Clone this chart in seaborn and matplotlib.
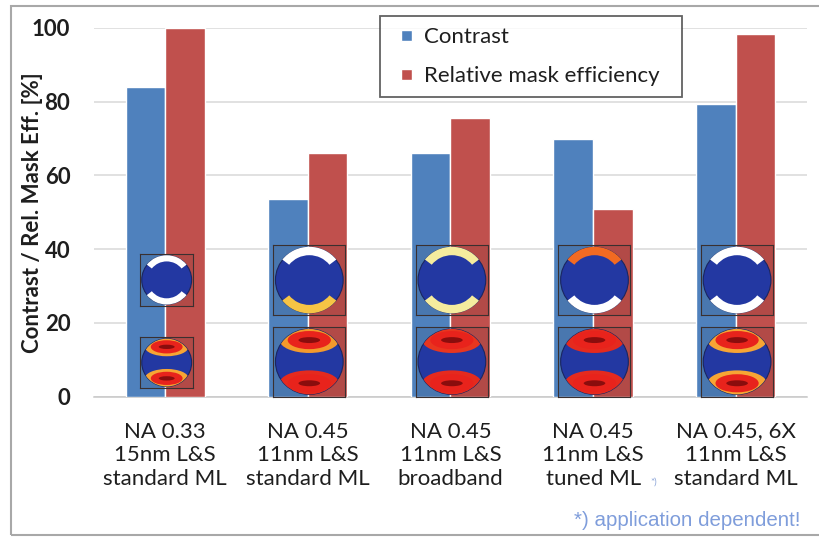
import matplotlib
matplotlib.use("Agg")
import matplotlib.pyplot as plt
import pandas as pd
import seaborn as sns
from matplotlib.patches import Circle, Wedge, Ellipse, Rectangle
from matplotlib.legend_handler import HandlerPatch

# ---- data -------------------------------------------------------------
categories = [
    "NA 0.33\n15nm L&S\nstandard ML",
    "NA 0.45\n11nm L&S\nstandard ML",
    "NA 0.45\n11nm L&S\nbroadband",
    "NA 0.45\n11nm L&S\ntuned ML",
    "NA 0.45, 6X\n11nm L&S\nstandard ML",
]
contrast = [84, 53.5, 66, 70, 79.5]
rel_mask_eff = [100, 66, 75.5, 51, 98.5]
series = ["Contrast", "Relative mask efficiency"]
y_ticks = [0, 20, 40, 60, 80, 100]
y_label = "Contrast / Rel. Mask Eff. [%]"
footnote = "*) application dependent!"

# ---- styling ------------------------------------------------------------
BLUE, RED = "#4F81BD", "#C0504D"
GRID = "#d9d9d9"
TEXT = "#1e1e1e"

sns.set_theme(style="white")
plt.rcParams["font.family"] = ["Lato", "DejaVu Sans"]

df = pd.DataFrame({
    "category": categories * 2,
    "series": [series[0]] * len(categories) + [series[1]] * len(categories),
    "value": contrast + rel_mask_eff,
})

fig = plt.figure(figsize=(8.2, 5.38), dpi=100)
ax = fig.add_axes([0.1146, 0.263, 0.8695, 0.685])

sns.barplot(data=df, x="category", y="value", hue="series",
            palette=[BLUE, RED], saturation=1, width=0.555,
            order=categories, hue_order=series, ax=ax, zorder=3)

ax.set_ylim(0, 100)
ax.set_xlim(-0.5, len(categories) - 0.5)
ax.set_yticks(y_ticks)
ax.yaxis.grid(True, color=GRID, lw=1.1, zorder=0)
ax.set_axisbelow(True)
for s in ("top", "right", "left"):
    ax.spines[s].set_visible(False)
ax.spines["bottom"].set_color("#c8c8c8")
ax.spines["bottom"].set_linewidth(1.1)

ax.tick_params(axis="y", length=5, color=GRID, width=1.1, pad=12,
               labelsize=16, labelcolor=TEXT)
for lab in ax.get_yticklabels():
    lab.set_fontweight("bold")

ax.set_xticks(range(len(categories)))
ax.set_xticklabels(categories, fontsize=16, color=TEXT, linespacing=1.22)
ax.tick_params(axis="x", which="major", length=0, pad=18)
ax.set_xticks([i - 0.5 for i in range(len(categories) + 1)], minor=True)
ax.tick_params(axis="x", which="minor", length=6, color="#c8c8c8", width=1.1)

ax.set_xlabel("")
ax.set_ylabel(y_label, fontsize=16, fontweight="bold", color=TEXT)
ax.yaxis.set_label_coords(-0.072, 0.5)


def square_handle(legend, orig_handle, xdescent, ydescent, width, height, fontsize):
    side = 0.5 * fontsize
    return Rectangle((width - side - xdescent, (height - side) / 2 - ydescent),
                     side, side)


handles, labels = ax.get_legend_handles_labels()
leg = ax.legend(handles, [l + "  " for l in labels], loc="upper left",
                bbox_to_anchor=(0.463, 0.970), bbox_transform=fig.transFigure,
                fontsize=16, frameon=True, fancybox=False, shadow=False,
                handlelength=0.95, handleheight=0.7, handletextpad=0.55,
                borderpad=0.5, labelspacing=0.85, borderaxespad=0,
                handler_map={h: HandlerPatch(patch_func=square_handle) for h in handles})
leg.get_frame().set_edgecolor("#3c3c3c")
leg.get_frame().set_linewidth(1.3)
for t in leg.get_texts():
    t.set_color(TEXT)

# ---- pupil diagrams drawn on top of each bar pair -------------------------
DISK = "#2338a2"
source_arcs = [("white", "white"), ("white", "#f6c445"), ("#f5ec9e", "#f5ec9e"),
               ("#f26a22", "white"), ("white", "white")]
field_rims = [("#f7a534", "#f7a534"), ("#f39a2c", "#e52a1e"), ("#e8361f", "#e52a1e"),
              ("#e52a1e", "#e52a1e"), ("#f7a534", "#f7a534")]


def frame(inset):
    inset.set_xlim(-1, 1)
    inset.set_ylim(-1, 1)
    inset.set_xticks([])
    inset.set_yticks([])
    inset.set_facecolor((0, 0, 0, 0.07))
    for sp in inset.spines.values():
        sp.set_color("#3a3030")
        sp.set_linewidth(0.8)


def draw_source(inset, top, bottom):
    frame(inset)
    inset.add_patch(Circle((0, 0), 0.94, fc=DISK, ec="#1a2660", lw=0.8))
    inset.add_patch(Wedge((0, 0), 0.95, 38, 142, width=0.24, fc=top, ec="none"))
    inset.add_patch(Wedge((0, 0), 0.95, 218, 322, width=0.24, fc=bottom, ec="none"))


def draw_field(inset, top, bottom):
    frame(inset)
    disk = Circle((0, 0), 0.94, fc=DISK, ec="#1a2660", lw=0.8)
    inset.add_patch(disk)
    for yc, rim in ((0.62, top), (-0.62, bottom)):
        for w, h, c in ((1.65, 0.74, rim), (1.2, 0.52, "#e8231c"), (0.6, 0.17, "#8a0d0d")):
            e = Ellipse((0, yc), w, h, fc=c, ec="none")
            inset.add_patch(e)
            e.set_clip_path(disk)


for i in range(len(categories)):
    if i == 0:
        w, top_box, bot_box = 0.372, (24.6, 38.7), (2.3, 16.1)
    else:
        w, top_box, bot_box = 0.505, (22.1, 41.1), (0.0, 18.9)
    x0 = i + 0.01 - w / 2
    a1 = ax.inset_axes([x0, top_box[0], w, top_box[1] - top_box[0]],
                       transform=ax.transData, zorder=5)
    draw_source(a1, *source_arcs[i])
    a2 = ax.inset_axes([x0, bot_box[0], w, bot_box[1] - bot_box[0]],
                       transform=ax.transData, zorder=5)
    draw_field(a2, *field_rims[i])

# footnote marker and note
fig.text(0.7935, 0.1, "*)", fontsize=7, color="#8aa4d8")
fig.text(0.976, 0.022, footnote, ha="right", va="baseline", fontsize=14.8,
         color="#7f9ddb", family=["Liberation Sans", "DejaVu Sans"])

# outer frame
fig.add_artist(Rectangle((0.0134, 0.0056), 1.2, 0.9832, transform=fig.transFigure,
                         fill=False, ec="#a8a8a8", lw=1.5))

fig.savefig("out.png", dpi=100, facecolor="white")
